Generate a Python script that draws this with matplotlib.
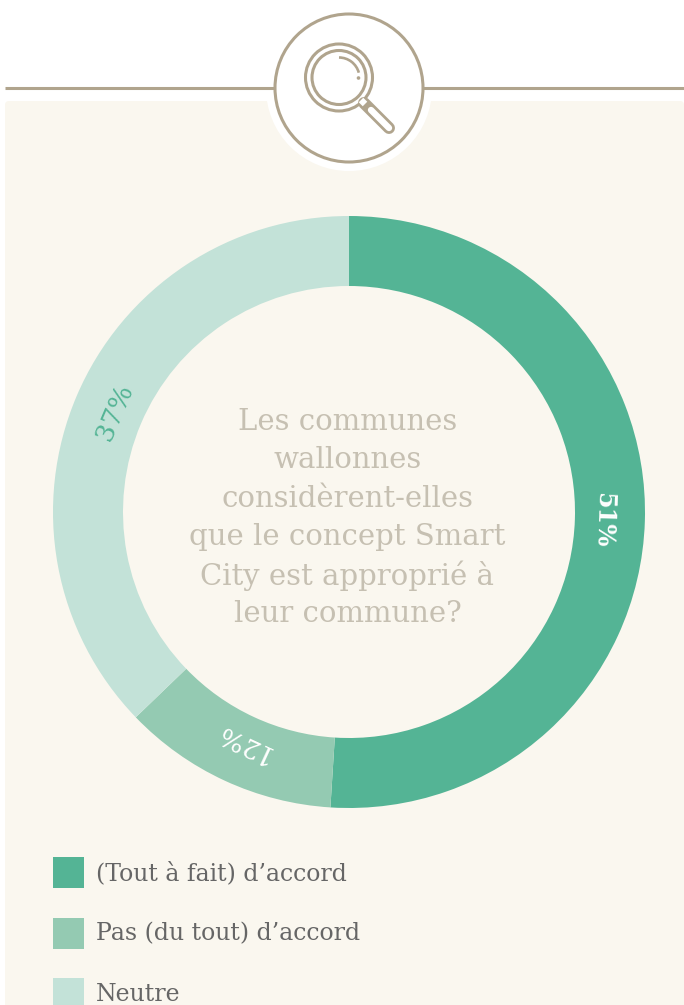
import numpy as np
import matplotlib
matplotlib.use("Agg")
import matplotlib.pyplot as plt
from matplotlib.patches import Circle, Rectangle, Arc, FancyBboxPatch

labels = ["(Tout à fait) d’accord", "Pas (du tout) d’accord", "Neutre"]
values = [51, 11.8, 37.2]
colors = ["#54B495", "#94CAB2", "#C3E2D8"]
label_colors = ["white", "white", "#54B495"]
question = ["Les communes", "wallonnes", "considèrent-elles",
            "que le concept Smart", "City est approprié à", "leur commune?"]

W, H = 684, 1005
BEIGE = "#FAF7EF"
TAN = "#B0A48D"
SERIF = "DejaVu Serif"

fig = plt.figure(figsize=(W / 100, H / 100), dpi=100, facecolor="white")

# background layer in pixel coordinates
bg = fig.add_axes([0, 0, 1, 1])
bg.set_xlim(0, W)
bg.set_ylim(H, 0)
bg.axis("off")

bg.add_patch(FancyBboxPatch((5, 101), 679, 920, boxstyle="round,pad=0,rounding_size=4",
                            fc=BEIGE, ec="none", zorder=1))
bg.add_patch(Circle((349, 88), 83, fc="white", ec="none", zorder=1.5))
bg.plot([5, 684], [88, 88], color=TAN, lw=2.2, solid_capstyle="butt", zorder=1.8)
bg.add_patch(Circle((349, 88), 74, fc="white", ec=TAN, lw=2.2, zorder=2))

# magnifier icon
bg.add_patch(Circle((339, 77.5), 33.5, fc="none", ec=TAN, lw=2.2, zorder=3))
bg.add_patch(Circle((339, 77.5), 27, fc="none", ec=TAN, lw=2.2, zorder=3))
bg.add_patch(Arc((339, 78), 41, 41, angle=0, theta1=-90, theta2=-15, ec=TAN, lw=1.9, zorder=3))
bg.add_patch(Circle((358.5, 78), 1.8, fc=TAN, ec="none", zorder=3))
bg.plot([364, 389], [103, 128], color=TAN, lw=8.6, solid_capstyle="round", zorder=3)
bg.plot([371, 389], [110, 128], color="white", lw=4.6, solid_capstyle="round", zorder=3)
bg.plot([361, 365], [100, 104], color="white", lw=4.6, solid_capstyle="butt", zorder=3)

# donut
R_OUT, R_IN = 296, 226
cx, cy = 349, 512
ax = fig.add_axes([(cx - R_OUT) / W, 1 - (cy + R_OUT) / H, 2 * R_OUT / W, 2 * R_OUT / H])
ax.pie(values, colors=colors, startangle=90, counterclock=False, radius=1,
       wedgeprops=dict(width=(R_OUT - R_IN) / R_OUT, linewidth=0))
ax.set_xlim(-1, 1)
ax.set_ylim(-1, 1)
ax.patch.set_alpha(0)

mid_r = 257 / R_OUT
running = 0
for val, col in zip(values, label_colors):
    mid = (running + val / 2) / sum(values) * 360
    running += val
    is_top = val == max(values)
    ax.text(mid_r * np.sin(np.radians(mid)), mid_r * np.cos(np.radians(mid)), f"{val:.0f}%",
            rotation=-mid, rotation_mode="anchor", ha="center", va="center_baseline",
            color=col, fontsize=17 if is_top else 19, family=SERIF,
            fontweight="bold" if is_top else "normal")

# question in the centre
for i, line in enumerate(question):
    bg.text(347.5, 422 + i * 38.4, line, ha="center", va="center", fontsize=21,
            family=SERIF, color="#C6C0B2", zorder=5)

# legend
for i, (lab, col) in enumerate(zip(labels, colors)):
    y = [857, 918, 978][i]
    bg.add_patch(Rectangle((53, y), 31, 31, fc=col, ec="none", zorder=3))
    bg.text(96, y + 16, lab, ha="left", va="center", fontsize=17, family=SERIF,
            color="#666666", clip_on=False, zorder=5)

fig.savefig("out.png", dpi=100, facecolor="white")
